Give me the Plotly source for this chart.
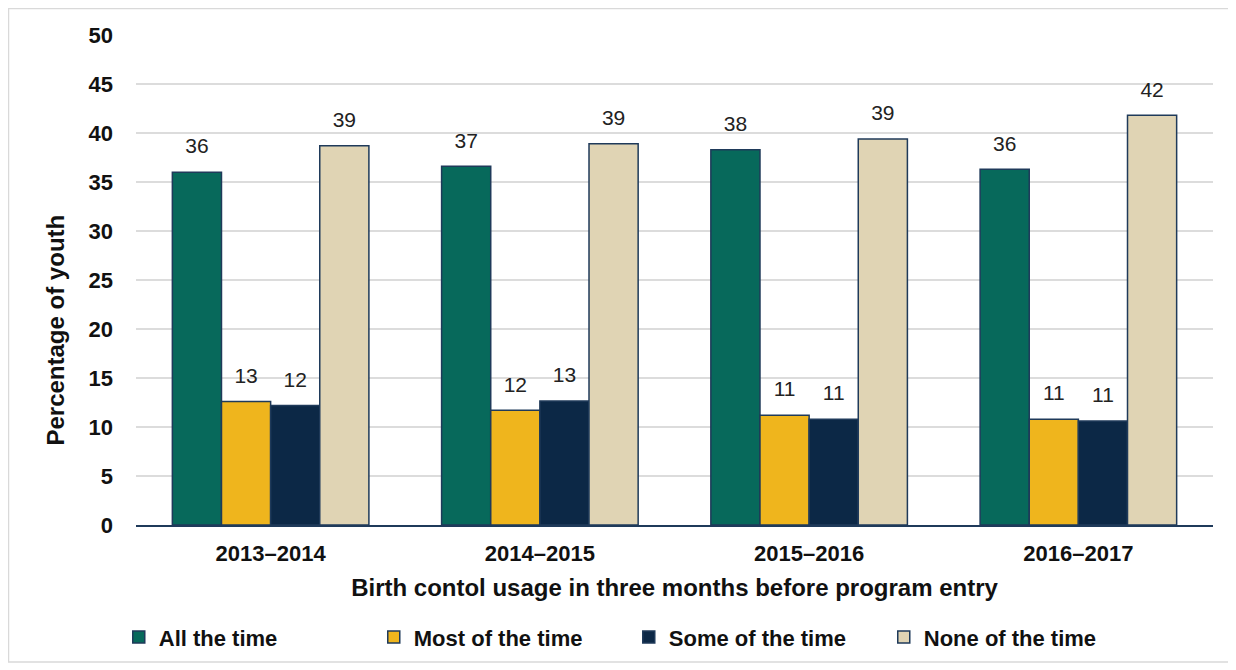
import plotly.graph_objects as go

# data
years = ['2013–2014', '2014–2015', '2015–2016', '2016–2017']
all_time = [36.0, 36.6, 38.3, 36.3]
most_time = [12.6, 11.7, 11.2, 10.8]
some_time = [12.2, 12.65, 10.8, 10.6]
none_time = [38.7, 38.9, 39.4, 41.8]

series = [
    ('All the time', all_time, '#07695B'),
    ('Most of the time', most_time, '#EFB51D'),
    ('Some of the time', some_time, '#0C2846'),
    ('None of the time', none_time, '#E0D4B4'),
]

fig = go.Figure()

# bars
for name, vals, colour in series:
    fig.add_trace(go.Bar(
        x=years, y=vals, name=name,
        marker=dict(color=colour, line=dict(color='#1F3A5A', width=1.5)),
    ))

# value labels, grouped the same way as the bars
for name, vals, colour in series:
    fig.add_trace(go.Scatter(
        x=years, y=vals, mode='markers+text', showlegend=False, hoverinfo='skip',
        marker=dict(size=20, opacity=0),
        text=vals, texttemplate='%{y:.0f}', textposition='top center',
        textfont=dict(family='Liberation Sans, Arial', size=21, color='#222222'),
        cliponaxis=False,
    ))

fig.update_layout(
    barmode='group', bargap=0.27, bargroupgap=0,
    scattermode='group', scattergap=0.27,
    width=1228, height=662,
    margin=dict(l=128, r=23, t=27, b=145),
    paper_bgcolor='white', plot_bgcolor='white',
    font=dict(family='Liberation Sans, Arial', size=22, color='#111111'),
    legend=dict(orientation='h', x=-0.016, y=-0.186, xanchor='left', yanchor='top',
                entrywidth=210, entrywidthmode='pixels', itemwidth=30,
                font=dict(size=22, weight='bold')),
    shapes=[dict(type='rect', xref='paper', yref='paper',
                 x0=-0.1184, x1=1.0149, y0=-0.2796, y1=1.054,
                 line=dict(color='#D9D9D9', width=1.5), layer='below')],
    annotations=[dict(text='Percentage of youth', textangle=-90, showarrow=False,
                      xref='paper', yref='paper', x=-0.0891, y=0.398,
                      font=dict(size=24, weight='bold'))],
)

fig.update_yaxes(
    range=[0, 50], dtick=5, showgrid=True, gridcolor='#DCDCDC', gridwidth=1.5,
    zeroline=False, ticks='', ticklabelstandoff=22,
    tickfont=dict(size=22, weight='bold'),
)
fig.update_xaxes(
    showline=True, linecolor='#1F3A5A', linewidth=2, ticks='', ticklabelstandoff=8,
    tickfont=dict(size=22, weight='bold'),
    title=dict(text='Birth contol usage in three months before program entry',
               font=dict(size=24, weight='bold'), standoff=14),
)

fig.write_html('out.html')
